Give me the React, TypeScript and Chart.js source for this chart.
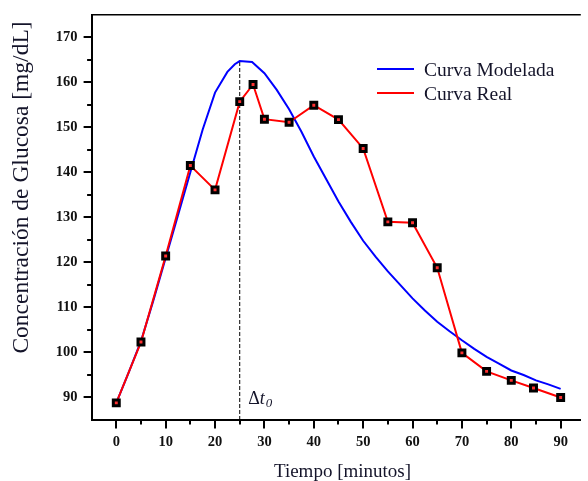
import React, { useEffect, useRef } from 'react';
import { Chart, registerables } from 'chart.js';

Chart.register(...registerables);

// ---- data ----
const realTimes = [0, 5, 10, 15, 20, 25, 27.7, 30, 35, 40, 45, 50, 55, 60, 65, 70, 75, 80, 84.5, 90];
const realValues = [88.8, 102.3, 121.4, 141.5, 136.1, 155.7, 159.5, 151.8, 151.1, 154.9, 151.7, 145.3, 129.0, 128.8, 118.8, 99.9, 95.8, 93.8, 92.1, 90.0];

const modelTimes = [0, 2.5, 5, 7.5, 10, 12.5, 15, 17.5, 20, 22.5, 24, 25, 27.5, 30, 32.5, 35, 37.5, 40, 42.5, 45, 47.5, 50, 52.5, 55, 57.5, 60, 62.5, 65, 67.5, 70, 72.5, 75, 77.5, 80, 82.5, 85, 87.5, 90];
const modelValues = [88.8, 95.5, 102.5, 111.5, 121.0, 130.5, 140.0, 149.5, 157.7, 162.3, 164.0, 164.7, 164.5, 162.0, 158.3, 154.0, 149.0, 143.5, 138.5, 133.5, 129.0, 124.8, 121.3, 118.0, 115.0, 112.0, 109.3, 106.8, 104.7, 102.7, 100.8, 99.0, 97.5, 96.0, 95.0, 93.8, 92.9, 91.9];

const xLabelTicks = [0, 10, 20, 30, 40, 50, 60, 70, 80, 90];
const xMinorTicks = [5, 15, 25, 35, 45, 55, 65, 75, 85];
const yLabelTicks = [90, 100, 110, 120, 130, 140, 150, 160, 170];
const yMinorTicks = [95, 105, 115, 125, 135, 145, 155, 165];

const xTitle = 'Tiempo [minutos]';
const yTitle = 'Concentración de Glucosa [mg/dL]';
const legendLabels = ['Curva Modelada', 'Curva Real'];
const markerTime = 25; // Δt0

const SERIF = "'Liberation Serif', 'Times New Roman', serif";
const TEXT = '#14142a';

const decor = {
  id: 'decor',
  beforeDatasetsDraw(chart: any) {
    const { ctx, chartArea, scales } = chart;
    const x = scales.x, y = scales.y;
    const idx = modelTimes.indexOf(markerTime);
    const peak = modelValues[idx];
    const px = x.getPixelForValue(markerTime);
    ctx.save();
    ctx.setLineDash([4, 2]);
    ctx.lineWidth = 1;
    ctx.strokeStyle = '#000';
    ctx.beginPath();
    ctx.moveTo(px, chartArea.bottom);
    ctx.lineTo(px, y.getPixelForValue(peak));
    ctx.stroke();
    ctx.restore();
  },
  afterDraw(chart: any) {
    const { ctx, chartArea, scales } = chart;
    const x = scales.x, y = scales.y;
    ctx.save();
    // top border
    ctx.strokeStyle = '#000';
    ctx.lineWidth = 1.5;
    ctx.beginPath();
    ctx.moveTo(chartArea.left, chartArea.top);
    ctx.lineTo(chartArea.right, chartArea.top);
    ctx.stroke();
    // ticks
    ctx.lineWidth = 2;
    const drawY = (v: number, len: number) => {
      const py = Math.round(y.getPixelForValue(v));
      ctx.beginPath();
      ctx.moveTo(chartArea.left, py);
      ctx.lineTo(chartArea.left - len, py);
      ctx.stroke();
    };
    const drawX = (v: number, len: number) => {
      const px = Math.round(x.getPixelForValue(v));
      ctx.beginPath();
      ctx.moveTo(px, chartArea.bottom);
      ctx.lineTo(px, chartArea.bottom + len);
      ctx.stroke();
    };
    yLabelTicks.forEach(v => drawY(v, 8));
    yMinorTicks.forEach(v => drawY(v, 4.5));
    xLabelTicks.forEach(v => drawX(v, 8.5));
    xMinorTicks.forEach(v => drawX(v, 4.5));

    // legend
    const colors = ['#0000ff', '#ff0000'];
    const baselines = [76, 100];
    ctx.font = `19.5px ${SERIF}`;
    ctx.fillStyle = TEXT;
    ctx.textBaseline = 'alphabetic';
    ctx.textAlign = 'left';
    legendLabels.forEach((lab, i) => {
      ctx.strokeStyle = colors[i];
      ctx.lineWidth = 2;
      ctx.beginPath();
      ctx.moveTo(377, baselines[i] - 7);
      ctx.lineTo(414, baselines[i] - 7);
      ctx.stroke();
      ctx.fillText(lab, 424, baselines[i]);
    });

    // axis titles
    ctx.font = `19px ${SERIF}`;
    ctx.textAlign = 'center';
    ctx.fillText(xTitle, 342.5, 476.5);
    ctx.save();
    ctx.translate(28, 187.5);
    ctx.rotate(-Math.PI / 2);
    ctx.font = `23.5px ${SERIF}`;
    ctx.fillText(yTitle, 0, 0);
    ctx.restore();

    // Δt0 label
    const px = x.getPixelForValue(markerTime);
    const base = chartArea.bottom - 16;
    ctx.textAlign = 'left';
    ctx.font = `18px ${SERIF}`;
    ctx.fillText('Δ', px + 8.5, base);
    const wD = ctx.measureText('Δ').width;
    ctx.font = `italic 18px ${SERIF}`;
    ctx.fillText('t', px + 8.5 + wD, base);
    const wT = ctx.measureText('t').width;
    ctx.font = `italic 13px ${SERIF}`;
    ctx.fillText('0', px + 9.5 + wD + wT, base + 3);
    ctx.restore();
  },
};

export default function App() {
  const ref = useRef<HTMLCanvasElement | null>(null);
  useEffect(() => {
    if (!ref.current) return;
    const chart = new Chart(ref.current, {
      type: 'line',
      data: {
        datasets: [
          {
            label: legendLabels[1],
            data: realTimes.map((t, i) => ({ x: t, y: realValues[i] })),
            borderColor: '#ff0000',
            borderWidth: 2,
            pointStyle: 'rect',
            pointRadius: 4.2,
            pointBorderWidth: 3,
            pointBorderColor: '#000',
            pointBackgroundColor: '#ff3030',
            tension: 0,
          },
          {
            label: legendLabels[0],
            data: modelTimes.map((t, i) => ({ x: t, y: modelValues[i] })),
            borderColor: '#0000ff',
            borderWidth: 2,
            pointRadius: 0,
            tension: 0,
          },
        ],
      },
      options: {
        animation: false,
        responsive: false,
        devicePixelRatio: 1,
        layout: { padding: { top: 13.5, right: 0, left: 0, bottom: 0 } },
        plugins: { legend: { display: false }, tooltip: { enabled: false } },
        scales: {
          x: {
            type: 'linear',
            min: -5,
            max: 94.08,
            grid: { display: false },
            border: { display: true, color: '#000', width: 2 },
            afterBuildTicks: (s: any) => { s.ticks = xLabelTicks.map(v => ({ value: v })); },
            afterFit: (s: any) => { s.height = 61; },
            ticks: {
              autoSkip: false,
              maxRotation: 0,
              padding: 6,
              color: '#111',
              font: { family: SERIF, size: 14.5, weight: 'bold' },
            },
          },
          y: {
            type: 'linear',
            min: 85,
            max: 175,
            grid: { display: false },
            border: { display: true, color: '#000', width: 2 },
            afterBuildTicks: (s: any) => { s.ticks = yLabelTicks.map(v => ({ value: v })); },
            afterFit: (s: any) => { s.width = 91.6; },
            ticks: {
              autoSkip: false,
              padding: 6,
              color: '#111',
              font: { family: SERIF, size: 14.5, weight: 'bold' },
            },
          },
        },
      },
      plugins: [decor],
    });
    return () => chart.destroy();
  }, []);
  return (
    <div style={{ position: 'absolute', left: 0, top: 0, width: 588, height: 481, background: '#fff' }}>
      <canvas ref={ref} width={588} height={481} />
    </div>
  );
}
